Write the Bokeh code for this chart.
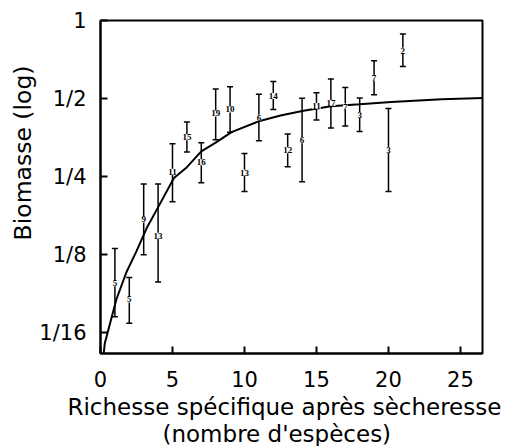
from bokeh.plotting import figure
from bokeh.models import (ColumnDataSource, Whisker, TeeHead, LabelSet, Title,
                          FixedTicker, Range1d)
from bokeh.embed import file_html
from bokeh.resources import INLINE

# ---- data ----
richness = [1, 2, 3, 4, 5, 6, 7, 8, 9, 10, 11, 12, 13, 14, 15, 16, 17, 18, 19, 20, 21]
biomass = [0.097, 0.084, 0.171, 0.148, 0.261, 0.355, 0.284, 0.438, 0.454, 0.259, 0.422,
           0.512, 0.316, 0.345, 0.468, 0.481, 0.466, 0.432, 0.601, 0.317, 0.765]
biomass_upper = [0.132, 0.102, 0.234, 0.234, 0.335, 0.406, 0.338, 0.544, 0.555, 0.307, 0.520,
                 0.582, 0.365, 0.501, 0.527, 0.595, 0.552, 0.502, 0.700, 0.458, 0.888]
biomass_lower = [0.072, 0.068, 0.125, 0.098, 0.200, 0.311, 0.237, 0.347, 0.371, 0.219, 0.344,
                 0.454, 0.273, 0.239, 0.413, 0.385, 0.392, 0.373, 0.517, 0.219, 0.664]
n_plots = ["5", "5", "9", "13", "11", "15", "16", "19", "10", "13", "6",
           "14", "12", "6", "11", "17", "7", "3", "7", "3", "2"]

curve_x = [0.22, 0.3, 1.1, 1.8, 2.5, 3.2, 4.1, 5.1, 6.0, 7.0, 8.0, 9.1, 11.0, 12.5,
           14.1, 16.0, 18.0, 20.2, 23.7, 26.6]
curve_y = [0.052, 0.057, 0.084, 0.107, 0.129, 0.158, 0.195, 0.247, 0.272, 0.313, 0.338,
           0.371, 0.409, 0.430, 0.449, 0.467, 0.475, 0.485, 0.497, 0.503]

x_ticks = [0, 5, 10, 15, 20, 25]
y_ticks = [0.0625, 0.125, 0.25, 0.5, 1.0]
y_tick_labels = ["1/16", "1/8", "1/4", "1/2", "1"]

x_title_1 = "Richesse spécifique après sècheresse"
x_title_2 = "(nombre d'espèces)"
y_title = "Biomasse (log)"

FONT = "DejaVu Sans"

p = figure(frame_width=382, frame_height=333,
           x_range=Range1d(0, 26.53), y_range=Range1d(0.052, 1.0),
           y_axis_type="log", output_backend="svg", toolbar_location=None,
           min_border_left=100, min_border_top=20, min_border_right=25,
           min_border_bottom=93, background_fill_color="white",
           border_fill_color="white")

p.xgrid.visible = False
p.ygrid.visible = False
p.outline_line_color = "black"
p.outline_line_width = 2
p.outline_line_alpha = 1.0

p.xaxis.ticker = FixedTicker(ticks=x_ticks)
p.yaxis.ticker = FixedTicker(ticks=y_ticks)
p.yaxis.major_label_overrides = {t: l for t, l in zip(y_ticks, y_tick_labels)}

for ax in (p.xaxis, p.yaxis):
    ax.axis_line_width = 2
    ax.axis_line_color = "black"
    ax.major_tick_in = 7
    ax.major_tick_out = 0
    ax.major_tick_line_width = 2
    ax.major_tick_line_color = "black"
    ax.minor_tick_line_color = None
    ax.major_label_text_font = FONT
    ax.major_label_text_font_size = "21px"
    ax.major_label_text_color = "black"
p.xaxis.major_label_standoff = 17
p.yaxis.major_label_standoff = 14

src = ColumnDataSource(dict(x=richness, y=biomass, upper=biomass_upper,
                            lower=biomass_lower, n=n_plots))

p.line(curve_x, curve_y, line_width=2, line_color="black")

whisk = Whisker(base="x", upper="upper", lower="lower", source=src,
                line_width=1.5, line_color="black",
                upper_head=TeeHead(size=6, line_width=1.5, line_color="black"),
                lower_head=TeeHead(size=6, line_width=1.5, line_color="black"))
p.add_layout(whisk)

labels = LabelSet(x="x", y="y", text="n", source=src, text_font=FONT,
                  text_font_size="9px", text_font_style="bold",
                  text_align="center", text_baseline="middle",
                  text_color="black", background_fill_color="white")
p.add_layout(labels)

def make_title(text, align, offset, standoff, size):
    return Title(text=text, align=align, offset=offset, standoff=standoff,
                 text_font=FONT, text_font_size=size, text_font_style="normal",
                 text_color="black")

p.add_layout(make_title(y_title, "right", 45, 0, "23.5px"), "left")
p.add_layout(make_title(x_title_1, "left", -33, 4, "23px"), "below")
p.add_layout(make_title(x_title_2, "left", 62, -6, "23px"), "below")

open("out.html", "w").write(file_html(p, INLINE))
